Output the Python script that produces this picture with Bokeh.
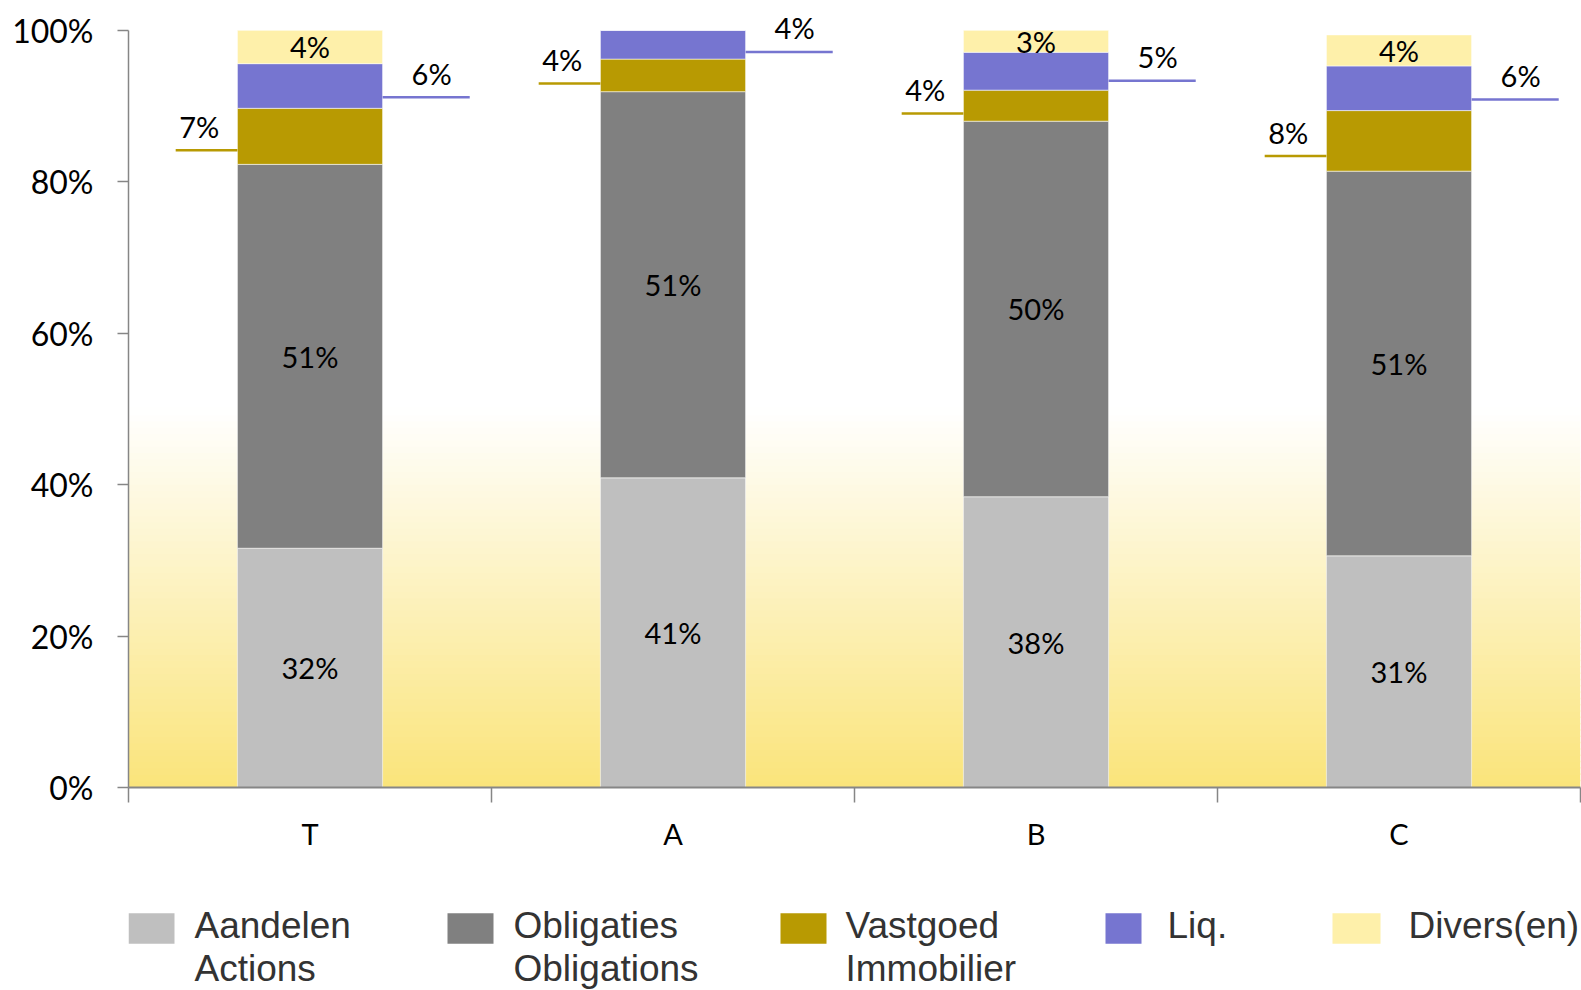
import numpy as np
from bokeh.plotting import figure
from bokeh.models import (Range1d, LinearAxis, FixedTicker,
                          ColumnDataSource, LabelSet, NumeralTickFormatter)
from bokeh.layouts import column
from bokeh.core.properties import value
from bokeh.embed import file_html
from bokeh.resources import INLINE

# ---------------- data ----------------
categories = ["T", "A", "B", "C"]
aandelen = [0.316, 0.409, 0.384, 0.306]
obligaties = [0.507, 0.510, 0.496, 0.508]
vastgoed = [0.074, 0.043, 0.041, 0.080]
liq = [0.059, 0.038, 0.050, 0.059]
divers = [0.044, 0.000, 0.029, 0.041]

series_keys = ["aandelen", "obligaties", "vastgoed", "liq", "divers"]
series_colors = ["#BFBFBF", "#808080", "#B89A02", "#7675D0", "#FEF0AA"]
legend_line1 = ["Aandelen", "Obligaties", "Vastgoed", "Liq.", "Divers(en)"]
legend_line2 = ["Actions", "Obligations", "Immobilier", "", ""]
y_ticks = [0.0, 0.2, 0.4, 0.6, 0.8, 1.0]

# ---------------- layout constants ----------------
W = 1581
MAIN_H = 860
LEG_H = 129
BORDER_L = 128
BORDER_R = 1
FRAME_H = 787
Y_TOP = 1.0394
LABEL_FONT = "Lato"
BAR_W = 0.4
N = len(categories)
centers = [i + 0.5 for i in range(N)]

p = figure(width=W, height=MAIN_H,
           x_range=Range1d(0, N), y_range=Range1d(0, Y_TOP),
           x_axis_location=None, y_axis_location=None,
           output_backend="svg", toolbar_location=None,
           min_border_left=BORDER_L, min_border_right=BORDER_R,
           min_border_top=0, min_border_bottom=MAIN_H - FRAME_H)
p.outline_line_color = None
p.xgrid.visible = False
p.ygrid.visible = False
p.background_fill_color = "white"
p.border_fill_color = "white"

# background gradient (white at half height -> warm yellow at the base)
n_bands = 60
edges = np.linspace(0.0, 0.5, n_bands + 1)
mids = (edges[:-1] + edges[1:]) / 2
top_rgb = np.array([255, 255, 255])
base_rgb = np.array([250, 228, 122])
band_cols = []
for m in mids:
    t = 1 - m / 0.5
    c = (top_rgb + (base_rgb - top_rgb) * t).round().astype(int)
    band_cols.append("#%02x%02x%02x" % tuple(c))
p.quad(left=[0] * n_bands, right=[N] * n_bands,
       bottom=list(edges[:-1]), top=list(edges[1:] + 0.002),
       fill_color=band_cols, line_color=None)

# stacked bars
src = ColumnDataSource(dict(x=centers, aandelen=aandelen, obligaties=obligaties,
                            vastgoed=vastgoed, liq=liq, divers=divers))
p.vbar_stack(series_keys, x="x", width=BAR_W, color=series_colors,
             line_color="white", line_alpha=0.55, line_width=1, source=src)

# axes
yaxis = LinearAxis(ticker=FixedTicker(ticks=y_ticks), bounds=(0, 1),
                   formatter=NumeralTickFormatter(format="0%"),
                   axis_line_color="#868686", axis_line_width=1.5,
                   major_tick_line_color="#868686", major_tick_line_width=1.5,
                   major_tick_out=11, major_tick_in=0,
                   minor_tick_line_color=None, major_label_standoff=24,
                   major_label_text_font=LABEL_FONT, major_label_text_font_size="32px",
                   major_label_text_color="black")
p.add_layout(yaxis, "left")

bx = LinearAxis(ticker=FixedTicker(ticks=list(range(N + 1))),
                axis_line_color="#868686", axis_line_width=2,
                major_tick_line_color="#868686", major_tick_line_width=1.5,
                major_tick_out=15, major_tick_in=0, minor_tick_line_color=None,
                major_label_text_font_size="0px", major_label_standoff=0)
bx.major_label_overrides = {i: "" for i in range(N + 1)}
p.add_layout(bx, "below")

cx = LinearAxis(ticker=FixedTicker(ticks=centers),
                axis_line_color=None, major_tick_line_color=None,
                minor_tick_line_color=None, major_label_standoff=7,
                major_label_text_font=LABEL_FONT, major_label_text_font_size="29px",
                major_label_text_color="black")
cx.major_label_overrides = {c: name for c, name in zip(centers, categories)}
p.add_layout(cx, "below")

# data labels
vals = np.array([aandelen, obligaties, vastgoed, liq, divers])
cum = np.cumsum(vals, axis=0)
bottoms = cum - vals

in_x, in_y, in_t = [], [], []
for si in (0, 1, 4):
    for ci in range(N):
        v = vals[si, ci]
        if v > 0:
            in_x.append(centers[ci])
            in_y.append(bottoms[si, ci] + v / 2)
            in_t.append("%d%%" % round(v * 100))
p.add_layout(LabelSet(x="x", y="y", text="t",
                      source=ColumnDataSource(dict(x=in_x, y=in_y, t=in_t)),
                      text_align="center", text_baseline="middle",
                      text_font=value(LABEL_FONT), text_font_size="29px", text_color="black"))

# side labels with leader lines: Vastgoed to the left, Liq. to the right
for si, side, lcolor in ((2, -1, series_colors[2]), (3, 1, series_colors[3])):
    x0s, x1s, ys, lx, ly, lt = [], [], [], [], [], []
    for ci in range(N):
        v = vals[si, ci]
        if v <= 0:
            continue
        yl = bottoms[si, ci] + 0.25 * v
        edge = centers[ci] + side * BAR_W / 2
        length = 0.17 if side < 0 else 0.24
        x0s.append(edge)
        x1s.append(edge + side * length)
        ys.append(yl)
        lx.append(edge + side * (0.105 if side < 0 else 0.135))
        ly.append(yl)
        lt.append("%d%%" % round(v * 100))
    p.segment(x0=x0s, y0=ys, x1=x1s, y1=ys, line_color=lcolor, line_width=2.5)
    p.add_layout(LabelSet(x="x", y="y", text="t", y_offset=24,
                          source=ColumnDataSource(dict(x=lx, y=ly, t=lt)),
                          text_align="center", text_baseline="middle",
                          text_font=value(LABEL_FONT), text_font_size="29px",
                          text_color="black"))

# ---------------- legend (separate strip, x in page pixels) ----------------
leg = figure(width=W, height=LEG_H, x_range=Range1d(BORDER_L, W - BORDER_R),
             y_range=Range1d(0, LEG_H),
             x_axis_location=None, y_axis_location=None,
             output_backend="svg", toolbar_location=None,
             min_border_left=BORDER_L, min_border_right=BORDER_R,
             min_border_top=0, min_border_bottom=0)
leg.outline_line_color = None
leg.xgrid.visible = False
leg.ygrid.visible = False

swatch_left = [128, 447, 780, 1105, 1332]
swatch_w = [46, 46, 46, 36, 48]
text_left = [194, 513, 845, 1167, 1408]
leg.quad(left=swatch_left, right=[a + b for a, b in zip(swatch_left, swatch_w)],
         bottom=[45.7] * 5, top=[76.3] * 5, fill_color=series_colors, line_color=None)
leg.text(x=text_left, y=[64.5] * 5, text=legend_line1, text_font=value("Liberation Sans"),
         text_font_size="37px", text_color="#333333", text_baseline="middle")
leg.text(x=text_left, y=[21.5] * 5, text=legend_line2, text_font=value("Liberation Sans"),
         text_font_size="37px", text_color="#333333", text_baseline="middle")

layout = column(p, leg)
open("out.html", "w").write(file_html(layout, INLINE))
